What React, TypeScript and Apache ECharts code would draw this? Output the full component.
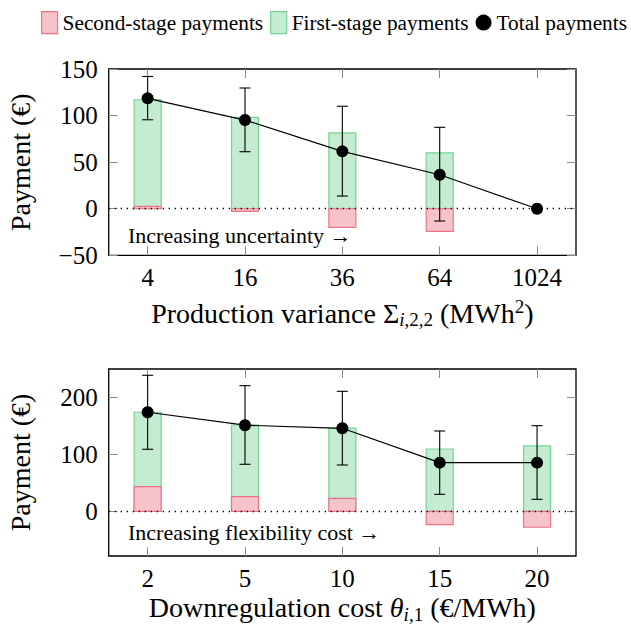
import React, { useEffect, useRef } from "react";
import * as echarts from "echarts";

// ---------- data ----------
const topCats = ["4", "16", "36", "64", "1024"];
const topFirst = [117, 98, 81.5, 60, null];
const topSecond = [2.5, -2.8, -20, -24.3, null];
const topTotal = [118.5, 95.2, 61.6, 36.5, 0];
const topErrLow = [95.5, 61.2, 13.6, -13.2, null];
const topErrHigh = [142, 129.6, 110, 87.4, null];
const topYTicks = [-50, 0, 50, 100, 150];

const botCats = ["2", "5", "10", "15", "20"];
const botFirst = [173.7, 151.4, 146.1, 109.3, 114.6];
const botSecond = [43.2, 25.6, 22.8, -23.4, -28];
const botTotal = [173.7, 151, 145.6, 85.3, 85.3];
const botErrLow = [108.8, 82.5, 81.2, 29.8, 21];
const botErrHigh = [238.6, 220.4, 210.5, 140.9, 150.2];
const botYTicks = [0, 100, 200];

const seriesNames = ["Second-stage payments", "First-stage payments", "Total payments"];

// ---------- style ----------
const FONT = "Liberation Serif";
const PINK_FILL = "#f7c3ca";
const PINK_STROKE = "#ea7587";
const GREEN_FILL = "#c5ebd1";
const GREEN_STROKE = "#74d496";
const TICK_COLOR = "#8a8a8a";
const BAR_W = 27;

const X_MIN = -0.4;
const X_MAX = 4.4;
const idx = [0, 1, 2, 3, 4];

function barSeries(name: string, values: (number | null)[], ai: number, fill: string, stroke: string) {
  const pts: number[][] = [];
  values.forEach((v, i) => {
    if (v != null) pts.push([i, v]);
  });
  return {
    type: "custom",
    name,
    xAxisIndex: ai,
    yAxisIndex: ai,
    data: pts,
    encode: { x: 0, y: 1 },
    itemStyle: { color: fill, borderColor: stroke },
    renderItem: (_p: any, api: any) => {
      const x = api.value(0);
      const y = api.value(1);
      const a = api.coord([x, 0]);
      const b = api.coord([x, y]);
      return {
        type: "rect",
        shape: { x: a[0] - BAR_W / 2, y: Math.min(a[1], b[1]), width: BAR_W, height: Math.abs(a[1] - b[1]) },
        style: { fill, stroke, lineWidth: 1.2 },
      };
    },
    z: 2,
  };
}

function errSeries(lows: (number | null)[], highs: (number | null)[], ai: number) {
  const pts: number[][] = [];
  lows.forEach((l, i) => {
    const h = highs[i];
    if (l != null && h != null) pts.push([i, l, h]);
  });
  return {
    type: "custom",
    name: "err" + ai,
    xAxisIndex: ai,
    yAxisIndex: ai,
    data: pts,
    encode: { x: 0, y: [1, 2] },
    renderItem: (_p: any, api: any) => {
      const x = api.value(0);
      const lo = api.coord([x, api.value(1)]);
      const hi = api.coord([x, api.value(2)]);
      const c = 5.5;
      const st = { stroke: "#000", lineWidth: 1.1 };
      return {
        type: "group",
        children: [
          { type: "line", shape: { x1: lo[0], y1: lo[1], x2: hi[0], y2: hi[1] }, style: st },
          { type: "line", shape: { x1: hi[0] - c, y1: hi[1], x2: hi[0] + c, y2: hi[1] }, style: st },
          { type: "line", shape: { x1: lo[0] - c, y1: lo[1], x2: lo[0] + c, y2: lo[1] }, style: st },
        ],
      };
    },
    z: 3,
  };
}

function lineSeries(values: number[], ai: number) {
  return {
    type: "line",
    name: seriesNames[2],
    xAxisIndex: ai,
    yAxisIndex: ai,
    data: values.map((v, i) => [i, v]),
    symbol: "circle",
    symbolSize: 12,
    itemStyle: { color: "#000" },
    lineStyle: { color: "#000", width: 1.2 },
    markLine: {
      silent: true,
      symbol: "none",
      label: { show: false },
      lineStyle: { color: "#000", width: 1.3, type: [1.3, 4.7] },
      data: [{ yAxis: 0 }],
    },
    z: 4,
  };
}

const tickLabel = { fontFamily: FONT, fontSize: 25, color: "#000" };
const nameStyle = { fontFamily: FONT, fontSize: 28, color: "#000" };
const richName = {
  fontFamily: FONT,
  fontSize: 28,
  color: "#000",
  lineHeight: 32,
  rich: {
    it: { fontFamily: FONT, fontSize: 28, fontStyle: "italic", lineHeight: 32 },
    subi: { fontFamily: FONT, fontSize: 19, fontStyle: "italic", lineHeight: 18, verticalAlign: "bottom" },
    sub: { fontFamily: FONT, fontSize: 19, lineHeight: 18, verticalAlign: "bottom" },
    sup: { fontFamily: FONT, fontSize: 19, lineHeight: 18, verticalAlign: "top" },
  },
};

const noLine = { show: false, onZero: false };

function xAxes(cats: string[], grid: number, name: string, nameGap: number) {
  return [
    {
      type: "value",
      gridIndex: grid,
      position: "bottom",
      min: X_MIN,
      max: X_MAX,
      name,
      nameLocation: "middle",
      nameGap,
      nameTextStyle: richName,
      axisLine: noLine,
      splitLine: { show: false },
      axisTick: { show: true, inside: true, length: 9, customValues: idx, lineStyle: { color: TICK_COLOR } },
      axisLabel: { ...tickLabel, margin: 10, customValues: idx, formatter: (v: number) => cats[Math.round(v)] },
    },
    {
      type: "value",
      gridIndex: grid,
      position: "top",
      min: X_MIN,
      max: X_MAX,
      axisLine: noLine,
      splitLine: { show: false },
      axisTick: { show: true, inside: true, length: 9, customValues: idx, lineStyle: { color: TICK_COLOR } },
      axisLabel: { show: false, customValues: idx },
    },
  ];
}

function yAxes(grid: number, min: number, max: number, ticks: number[]) {
  const fmt = (v: number) => (v < 0 ? "\u2212" + Math.abs(v) : String(v));
  return [
    {
      type: "value",
      gridIndex: grid,
      position: "left",
      min,
      max,
      name: "Payment (\u20ac)",
      nameLocation: "middle",
      nameRotate: 90,
      nameGap: 74,
      nameTextStyle: nameStyle,
      axisLine: noLine,
      splitLine: { show: false },
      axisTick: { show: true, inside: true, length: 9, customValues: ticks, lineStyle: { color: TICK_COLOR } },
      axisLabel: { ...tickLabel, margin: 11, customValues: ticks, formatter: fmt },
    },
    {
      type: "value",
      gridIndex: grid,
      position: "right",
      min,
      max,
      axisLine: noLine,
      splitLine: { show: false },
      axisTick: { show: true, inside: true, length: 9, customValues: ticks, lineStyle: { color: TICK_COLOR } },
      axisLabel: { show: false, customValues: ticks },
    },
  ];
}

export default function App() {
  const ref = useRef<HTMLDivElement>(null);
  useEffect(() => {
    if (!ref.current) return;
    const chart = echarts.init(ref.current, null, { renderer: "svg" });
    const gridBase = { show: true, borderColor: "#000", borderWidth: 1.3, backgroundColor: "transparent", containLabel: false, outerBoundsMode: "none" };
    const xa = [
      ...xAxes(topCats, 0, "Production variance \u03a3{subi|i}{sub|,2,2} (MWh{sup|2})", 42),
      ...xAxes(botCats, 1, "Downregulation cost {it|\u03b8}{subi|i}{sub|,1} (\u20ac/MWh)", 33),
    ];
    const ya = [...yAxes(0, -50, 150, topYTicks), ...yAxes(1, -78.4, 249.6, botYTicks)];
    const fix = (s: any, i: number) => ({ ...s, xAxisIndex: i, yAxisIndex: i });
    const option: any = {
      animation: false,
      backgroundColor: "#fff",
      textStyle: { fontFamily: FONT },
      legend: {
        left: 41,
        top: 11,
        padding: 0,
        itemWidth: 16,
        itemHeight: 22,
        itemGap: 7,
        selectedMode: false,
        textStyle: { fontFamily: FONT, fontSize: 21.3, color: "#000" },
        data: [
          { name: seriesNames[0], icon: "rect", itemStyle: { color: PINK_FILL, borderColor: PINK_STROKE, borderWidth: 1.2 } },
          { name: seriesNames[1], icon: "rect", itemStyle: { color: GREEN_FILL, borderColor: GREEN_STROKE, borderWidth: 1.2 } },
          { name: seriesNames[2], icon: "circle", itemStyle: { color: "#000", borderWidth: 0 } },
        ],
      },
      grid: [
        { ...gridBase, left: 108.7, top: 69, width: 467.3, height: 186.3 },
        { ...gridBase, left: 108.7, top: 369, width: 467.3, height: 187 },
      ],
      xAxis: xa,
      yAxis: ya,
      series: [
        fix(barSeries(seriesNames[1], topFirst, 0, GREEN_FILL, GREEN_STROKE), 0),
        fix(barSeries(seriesNames[0], topSecond, 0, PINK_FILL, PINK_STROKE), 0),
        fix(errSeries(topErrLow, topErrHigh, 0), 0),
        fix(lineSeries(topTotal, 0), 0),
        fix(barSeries(seriesNames[1], botFirst, 2, GREEN_FILL, GREEN_STROKE), 2),
        fix(barSeries(seriesNames[0], botSecond, 2, PINK_FILL, PINK_STROKE), 2),
        fix(errSeries(botErrLow, botErrHigh, 2), 2),
        fix(lineSeries(botTotal, 2), 2),
      ],
      graphic: [
        {
          type: "text",
          x: 128,
          y: 235,
          style: { text: "Increasing uncertainty \u2192", font: `22px ${FONT}`, fill: "#000", verticalAlign: "middle" },
        },
        {
          type: "text",
          x: 128,
          y: 532,
          style: { text: "Increasing flexibility cost \u2192", font: `22px ${FONT}`, fill: "#000", verticalAlign: "middle" },
        },
      ],
    };
    chart.setOption(option);
    return () => chart.dispose();
  }, []);
  return <div ref={ref} style={{ position: "fixed", left: 0, top: 0, width: 631, height: 627 }} />;
}
